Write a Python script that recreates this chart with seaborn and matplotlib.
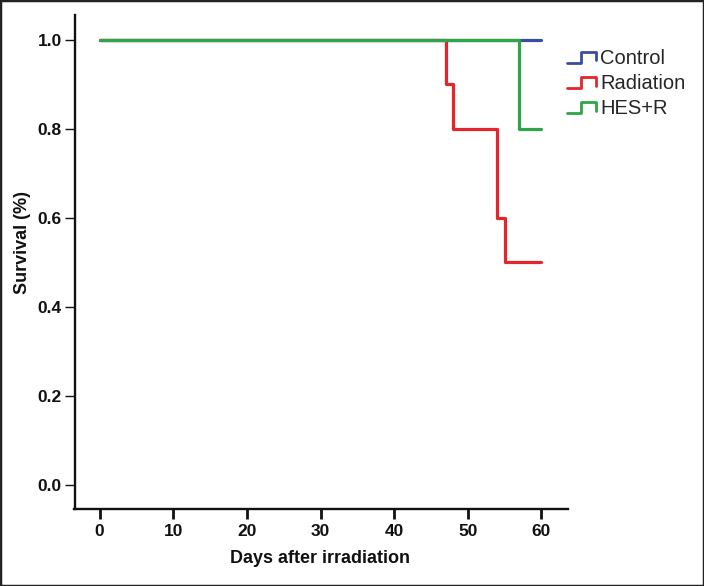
import numpy as np
import pandas as pd
import matplotlib
matplotlib.use("Agg")
import matplotlib.pyplot as plt
import seaborn as sns
from matplotlib.lines import Line2D
from matplotlib.legend_handler import HandlerBase
from matplotlib.patches import Rectangle

# ---- data (Kaplan-Meier step points) ----
groups = ["Control", "Radiation", "HES+R"]
control_days = [0, 60]
control_surv = [1.0, 1.0]
radiation_days = [0, 47, 48, 54, 55, 60]
radiation_surv = [1.0, 0.9, 0.8, 0.6, 0.5, 0.5]
hes_days = [0, 57, 60]
hes_surv = [1.0, 0.8, 0.8]
x_ticks = [0, 10, 20, 30, 40, 50, 60]
y_ticks = [0.0, 0.2, 0.4, 0.6, 0.8, 1.0]
colors = {"Control": "#3a4ca0", "Radiation": "#e3262c", "HES+R": "#2fa548"}

df = pd.concat([
    pd.DataFrame({"day": control_days, "surv": control_surv, "group": "Control"}),
    pd.DataFrame({"day": radiation_days, "surv": radiation_surv, "group": "Radiation"}),
    pd.DataFrame({"day": hes_days, "surv": hes_surv, "group": "HES+R"}),
], ignore_index=True)

sns.set_style("white")
plt.rcParams["font.family"] = ["Liberation Sans", "DejaVu Sans"]

fig = plt.figure(figsize=(7.04, 5.86), dpi=100)
ax = fig.add_axes([74.5 / 704, 1 - 509 / 586, (568 - 74.5) / 704, (509 - 15) / 586])

for g in groups:
    sub = df[df["group"] == g]
    sns.lineplot(data=sub, x="day", y="surv", ax=ax, color=colors[g], lw=2.3,
                 drawstyle="steps-post", estimator=None, label=g, legend=False)

ax.set_xlim(-3.4, 63.6)
ax.set_ylim(-0.055, 1.056)
ax.set_xticks(x_ticks)
ax.set_yticks(y_ticks)
ax.set_xticklabels([str(t) for t in x_ticks])
ax.set_yticklabels([f"{t:.1f}" for t in y_ticks])

for lab in ax.get_xticklabels() + ax.get_yticklabels():
    lab.set_fontfamily(["Liberation Sans Narrow", "Liberation Sans"])
    lab.set_fontweight("bold")
    lab.set_fontsize(12.5)
    lab.set_color("#111111")

for s in ["top", "right"]:
    ax.spines[s].set_visible(False)
for s in ["left", "bottom"]:
    ax.spines[s].set_linewidth(1.7)
    ax.spines[s].set_color("#111111")

ax.tick_params(axis="x", bottom=True, direction="out", length=7, width=2.0, pad=4, color="#111111")
ax.tick_params(axis="y", left=True, direction="out", length=7, width=1.0, pad=2, color="#111111")

ax.set_xlabel("Days after irradiation", fontsize=13, fontweight="bold", color="#111111")
ax.set_ylabel("Survival (%)", fontsize=13, fontweight="bold", color="#111111")
ax.xaxis.set_label_coords(0.497, -0.084)
ax.yaxis.set_label_coords(-0.089, 0.54)
ax.xaxis.label.set_va("top")


class StepHandler(HandlerBase):
    def create_artists(self, legend, orig_handle, xdescent, ydescent, width, height, fontsize, trans):
        xs = np.array([0.0, 0.47, 0.47, 1.0, 1.0]) * width - xdescent
        ys = np.array([0.05, 0.05, 0.85, 0.85, 0.25]) * height - ydescent
        ln = Line2D(xs, ys, color=orig_handle.get_color(), lw=orig_handle.get_linewidth())
        ln.set_transform(trans)
        return [ln]


handles = [Line2D([], [], color=colors[g], lw=2.0) for g in groups]
fig.legend(handles, groups, loc="upper left", bbox_to_anchor=(567 / 704, 1 - 49 / 586),
           frameon=False, fontsize=14.5, handlelength=1.45, handletextpad=0.2,
           labelspacing=0.3, borderpad=0, borderaxespad=0,
           handler_map={Line2D: StepHandler()})

fig.add_artist(Rectangle((0, 0), 1, 1, transform=fig.transFigure, fill=False,
                         lw=2.5, ec="#222222"))

fig.savefig("out.png", dpi=100)
